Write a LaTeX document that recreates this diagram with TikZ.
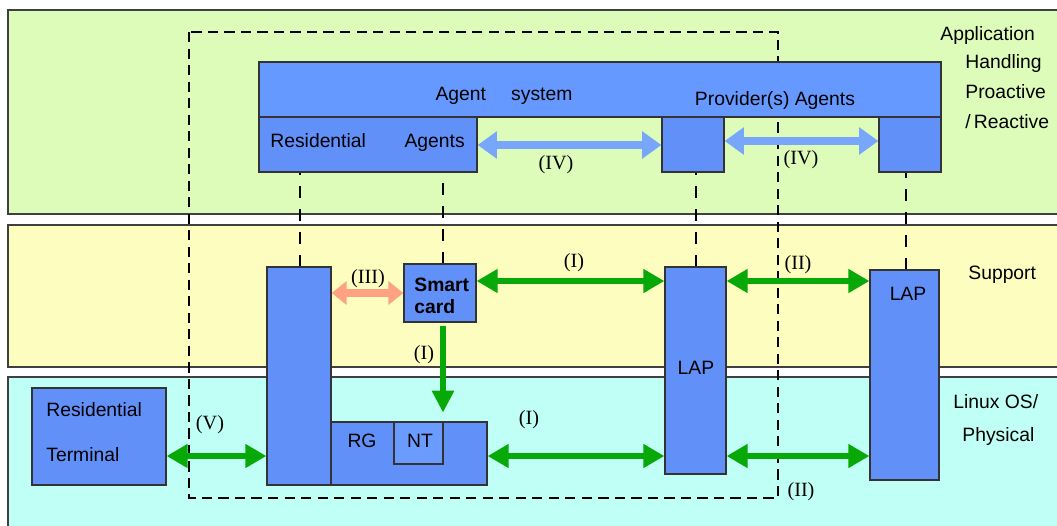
\documentclass[tikz,border=0pt]{standalone}
\usepackage{fontspec}
\setmainfont{Liberation Sans}
\newfontfamily\numfont{Liberation Serif}
\usetikzlibrary{arrows.meta,fit}

\definecolor{appband}{HTML}{DDFCB9}
\definecolor{supband}{HTML}{FDFDC0}
\definecolor{osband}{HTML}{C0FFF5}
\definecolor{topblue}{HTML}{6699FF}
\definecolor{boxblue}{HTML}{6190F8}
\definecolor{ntblue}{HTML}{6A9CFF}
\definecolor{ivblue}{HTML}{78A6FA}
\definecolor{linkgreen}{HTML}{08A808}
\definecolor{salmon}{HTML}{FFA184}

\tikzset{
  band/.style={draw=black!75, line width=0.8pt, inner sep=0pt},
  box/.style={draw=black!80, line width=0.7pt, fill=boxblue, inner sep=0pt},
  txt/.style={font=\fontsize{11}{13}\selectfont, inner sep=0pt},
  num/.style={font=\numfont\fontsize{11.5}{13}\selectfont, inner sep=0pt},
  glink/.style={draw=linkgreen, line width=3.4pt,
    {Triangle[width=13pt,length=12pt]}-{Triangle[width=13pt,length=12pt]}},
  gdown/.style={draw=linkgreen, line width=3.6pt, -{Triangle[width=12pt,length=12.5pt]}},
  blink/.style={draw=ivblue, line width=4pt,
    {Triangle[width=15pt,length=11pt]}-{Triangle[width=15pt,length=11pt]}},
  slink/.style={draw=salmon, line width=4pt,
    {Triangle[width=13pt,length=8.5pt]}-{Triangle[width=13pt,length=8.5pt]}},
  boundary/.style={draw=black, line width=1.2pt, dash pattern=on 5.8pt off 3.6pt},
  tie/.style={draw=black, line width=1.1pt, dash pattern=on 6.5pt off 6.5pt},
}

\begin{document}
\begin{tikzpicture}[x=0.02cm, y=-0.02cm]
\useasboundingbox (0,0) rectangle (1057,525);

% layer bands
\node[band, fill=appband, fit={(8,10)(1070,214)}] (app) {};
\node[band, fill=supband, fit={(8,225)(1070,367)}] (sup) {};
\node[band, fill=osband, fit={(8,377)(1070,540)}] (os) {};

% layer titles
\node[txt, anchor=west] (tapp) at (940,35) {Application};
\node[txt, anchor=west] (thand) at (965,63) {Handling};
\node[txt, anchor=west] (tpro) at (965,92) {Proactive};
\node[txt, anchor=west] (trea) at (965,122) {/\,Reactive};
\node[txt, anchor=west] (tsup) at (968,275) {Support};
\node[txt, anchor=west] (tlin) at (953,402) {Linux OS/};
\node[txt, anchor=west] (tphy) at (962,436) {Physical};

% dashed domain boundary
\draw[boundary] (189,32) rectangle (778,498);

% agent system
\node[box, fill=topblue, fit={(259,62)(941,117)}] (agsys) {};
\node[box, fit={(259,117)(477,172)}] (resag) {};
\node[box, fit={(662,117)(724,172)}] (prov1) {};
\node[box, fit={(879,117)(941,172)}] (prov2) {};
\node[txt] (tags) at (504,96) {Agent\hspace{1.3em}system};
\node[txt] (tprov) at (775,100) {Provider(s) Agents};
\node[txt, anchor=west] (tres) at (270,142) {Residential\hspace{2em}Agents};

% support / physical boxes
\node[box, fit={(267,267)(331,485)}] (rgbar) {};
\node[box, fit={(331,422)(487,485)}] (rg) {};
\node[box, fill=ntblue, fit={(394,422)(443,464)}] (nt) {};
\node[txt] (trg) at (362,441) {RG};
\node[txt] (tnt) at (420,441) {NT};
\node[box, fit={(404,264)(476,322)}] (sc) {};
\node[txt, font=\bfseries\fontsize{11}{12.5}\selectfont, align=left, anchor=west] (tsc) at (414,296) {Smart\\card};
\node[box, fit={(665,267)(726,474)}] (lapm) {};
\node[txt] (tlapm) at (696,368) {LAP};
\node[box, fit={(870,270)(939,480)}] (lapr) {};
\node[txt] (tlapr) at (908,294) {LAP};
\node[box, fit={(32,388)(166,485)}] (term) {};
\node[txt, anchor=west] (tterm1) at (46,410) {Residential};
\node[txt, anchor=west] (tterm2) at (46,455) {Terminal};

% agents tied to their platform components
\draw[tie] (rgbar.north -| 300,0) -- (resag.south -| 300,0);
\draw[tie] (sc.north -| 443,0) -- (resag.south -| 443,0);
\draw[tie] (lapm.north -| 696,0) -- (prov1.south -| 696,0);
\draw[tie] (lapr.north -| 906,0) -- (prov2.south -| 906,0);

% agent interfaces (IV)
\draw[blink] (resag.east |- 0,145) -- (prov1.west |- 0,145);
\draw[blink] (prov1.east |- 0,141) -- (prov2.west |- 0,141);
\node[num] (l4a) at (556,165) {(IV)};
\node[num] (l4b) at (801,160) {(IV)};

% interfaces (I), (II), (III), (V)
\draw[slink] (rgbar.east |- 0,293) -- (sc.west |- 0,293);
\node[num] (l3) at (368,279) {(III)};
\draw[glink] (sc.east |- 0,281) -- (lapm.west |- 0,281);
\node[num] (l1a) at (574,263) {(I)};
\draw[glink] (lapm.east |- 0,281) -- (lapr.west |- 0,281);
\node[num] (l2a) at (798,265) {(II)};
\draw[gdown, shorten <=1.7pt, shorten >=5pt] (sc.south -| 443,0) -- (nt.north -| 443,0);
\node[num] (l1b) at (424,355) {(I)};
\draw[glink] (rg.east |- 0,456) -- (lapm.west |- 0,456);
\node[num] (l1c) at (529,420) {(I)};
\draw[glink] (lapm.east |- 0,456) -- (lapr.west |- 0,456);
\node[num] (l2b) at (801,492) {(II)};
\draw[glink] (term.east |- 0,456) -- (rgbar.west |- 0,456);
\node[num] (l5) at (210,425) {(V)};
\end{tikzpicture}
\end{document}
